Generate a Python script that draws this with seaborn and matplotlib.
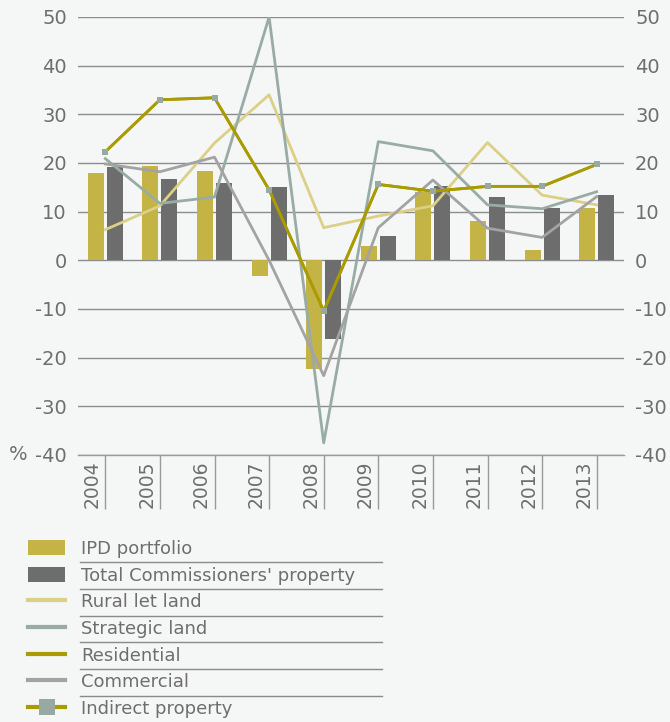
import numpy as np
import pandas as pd
import seaborn as sns
import matplotlib.pyplot as plt
import matplotlib.transforms as mtransforms
from matplotlib.lines import Line2D
from matplotlib.patches import Patch

# data (% returns)
years = ['2004', '2005', '2006', '2007', '2008', '2009', '2010', '2011', '2012', '2013']
ipd_portfolio = [18.0, 19.4, 18.4, -3.3, -22.3, 3.0, 14.1, 8.1, 2.2, 10.8]
total_commissioners = [19.1, 16.7, 15.9, 15.1, -16.2, 5.0, 15.3, 13.0, 10.8, 13.4]
rural_let_land = [6.3, 11.2, 24.1, 34.0, 6.7, 9.1, 11.2, 24.2, 13.4, 11.4]
strategic_land = [20.9, 11.7, 13.0, 50.0, -37.5, 24.4, 22.5, 11.4, 10.6, 14.1]
residential = [22.3, 33.0, 33.4, 14.5, -10.4, 15.6, 14.2, 15.2, 15.2, 19.7]
commercial = [19.8, 18.2, 21.2, 0.0, -23.7, 6.7, 16.5, 6.6, 4.7, 13.1]
indirect_property = [22.3, 33.0, 33.4, 14.5, -10.4, 15.6, 14.2, 15.2, 15.2, 19.7]
yticks = list(range(-40, 51, 10))

bg = '#f5f6f6'
txt = '#6e6e6e'
c_ipd = '#c4b445'
c_total = '#6d6d6d'
c_rural = '#dccf86'
c_strat = '#98aca5'
c_resi = '#a99b00'
c_comm = '#a3a3a3'
c_mark = '#97a9a2'

plt.rcParams['font.family'] = ['DejaVu Sans']

fig = plt.figure(figsize=(6.7, 7.22), dpi=100, facecolor=bg)
ax = fig.add_axes([78 / 670, 1 - 455 / 722, 546 / 670, 438 / 722])
ax.set_facecolor(bg)

bars = pd.DataFrame({
    'year': years * 2,
    'value': ipd_portfolio + total_commissioners,
    'series': ['IPD portfolio'] * len(years) + ["Total Commissioners' property"] * len(years),
})
sns.barplot(data=bars, x='year', y='value', hue='series', order=years,
            palette=[c_ipd, c_total], width=0.7, gap=0.16, saturation=1,
            linewidth=0, errorbar=None, legend=False, ax=ax, zorder=2)

lines = pd.DataFrame({'year': years, 'rural': rural_let_land, 'strategic': strategic_land,
                      'residential': residential, 'commercial': commercial,
                      'indirect': indirect_property})
sns.lineplot(data=lines, x='year', y='rural', color=c_rural, lw=2, ax=ax, zorder=3)
sns.lineplot(data=lines, x='year', y='strategic', color=c_strat, lw=2, ax=ax, zorder=3)
sns.lineplot(data=lines, x='year', y='commercial', color=c_comm, lw=2, ax=ax, zorder=3)
sns.lineplot(data=lines, x='year', y='residential', color=c_resi, lw=2, ax=ax, zorder=4)
sns.lineplot(data=lines, x='year', y='indirect', color=c_resi, lw=2, marker='s',
             markersize=5, markerfacecolor=c_mark, markeredgewidth=0, ax=ax, zorder=5)

ax.set_xlim(-0.5, len(years) - 0.5)
ax.set_ylim(-40, 50)
ax.set_yticks(yticks)
ax.set_yticklabels([str(v) for v in yticks])
ax.yaxis.grid(True, color='#8c8c8c', lw=1)
ax.axhline(-40, color='#9a9a9a', lw=1, clip_on=False, zorder=1)
ax.set_axisbelow(True)
for s in ax.spines.values():
    s.set_visible(False)
ax.set_xlabel('')
ax.set_ylabel('')

ax.tick_params(axis='y', length=0, pad=8, labelsize=14, labelcolor=txt,
               labelleft=True, labelright=True)
ax.set_xticks(range(len(years)))
ax.set_xticklabels(years, rotation=90, ha='center', va='top')
ax.tick_params(axis='x', length=39, width=1, color='#9a9a9a', pad=-35.4,
               labelsize=13.5, labelcolor=txt)
offset = mtransforms.ScaledTranslation(-0.13, 0, fig.dpi_scale_trans)
for lab in ax.get_xticklabels():
    lab.set_transform(lab.get_transform() + offset)

ax.annotate('%', xy=(0, -40), xycoords=ax.get_yaxis_transform(),
            xytext=(-36, 0), textcoords='offset points',
            ha='right', va='center', fontsize=14, color=txt)

handles = [
    Patch(facecolor=c_ipd, edgecolor='none'),
    Patch(facecolor=c_total, edgecolor='none'),
    Line2D([], [], color=c_rural, lw=3),
    Line2D([], [], color=c_strat, lw=3),
    Line2D([], [], color=c_resi, lw=3),
    Line2D([], [], color=c_comm, lw=3),
    Line2D([], [], color=c_resi, lw=3, marker='s', markersize=11,
           markerfacecolor=c_mark, markeredgewidth=0),
]
labels = ['IPD portfolio', "Total Commissioners' property", 'Rural let land',
          'Strategic land', 'Residential', 'Commercial', 'Indirect property']
fig.legend(handles, labels, loc='upper left', bbox_to_anchor=(28 / 670, 1 - 540 / 722),
           frameon=False, fontsize=13, labelcolor=txt, handlelength=2.05,
           handleheight=0.9, handletextpad=0.89, labelspacing=0.48,
           borderpad=0, borderaxespad=0)

# separator rules under each legend entry
for k in range(6):
    y = 1 - (562.3 + 26.7 * k) / 722
    fig.add_artist(Line2D([80 / 670, 382 / 670], [y, y], transform=fig.transFigure,
                          color='#8a8a8a', lw=1))

fig.savefig('out.png', dpi=100, facecolor=bg)
